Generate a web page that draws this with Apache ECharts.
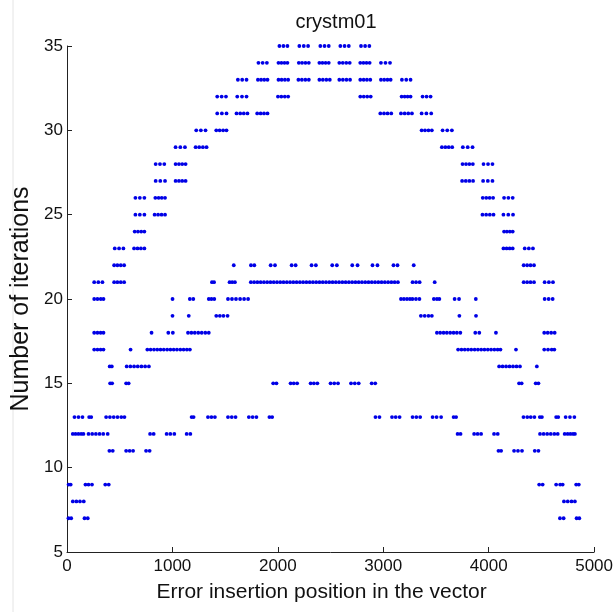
<!DOCTYPE html>
<html>
<head>
<meta charset="utf-8">
<script src="https://cdn.jsdelivr.net/npm/echarts@6/dist/echarts.min.js"></script>
<style>
html,body{margin:0;padding:0;background:#fff;}
#chart{width:616px;height:612px;}
</style>
</head>
<body>
<div id="chart"></div>
<script>
// Tick values
const xTicks = [0, 1000, 2000, 3000, 4000, 5000];
const yTicks = [5, 10, 15, 20, 25, 30, 35];

// Error insertion positions observed for each iteration count
const iter35 = [2015, 2053, 2091, 2204, 2246, 2287, 2403, 2443, 2483, 2593, 2633, 2673, 2789, 2828, 2868];
const iter34 = [1816, 1856, 1896, 2006, 2034, 2063, 2091, 2199, 2230, 2262, 2294, 2394, 2423, 2453, 2483, 2583, 2616, 2649, 2682, 2782, 2812, 2841, 2871, 2978, 3021, 3064];
const iter33 = [1621, 1662, 1703, 1811, 1841, 1871, 1902, 2006, 2036, 2067, 2098, 2195, 2228, 2261, 2294, 2394, 2427, 2460, 2493, 2583, 2617, 2651, 2685, 2782, 2814, 2845, 2877, 2978, 3009, 3040, 3070, 3177, 3218, 3259];
const iter32 = [1425, 1467, 1508, 1615, 1660, 1703, 2001, 2033, 2066, 2098, 2782, 2815, 2848, 2881, 3174, 3203, 3231, 3259, 3373, 3411, 3449];
const iter31 = [1425, 1469, 1513, 1608, 1643, 1677, 1712, 1804, 1837, 1869, 1902, 2972, 3007, 3041, 3076, 3168, 3203, 3237, 3272, 3364, 3409, 3455];
const iter30 = [1226, 1270, 1314, 1416, 1448, 1481, 1513, 3364, 3396, 3429, 3461, 3563, 3607, 3651];
const iter29 = [1030, 1075, 1119, 1220, 1254, 1289, 1324, 3556, 3589, 3621, 3654, 3755, 3801, 3847];
const iter28 = [841, 882, 923, 1030, 1062, 1093, 1125, 3752, 3785, 3817, 3850, 3951, 3994, 4036];
const iter27 = [841, 885, 930, 1030, 1062, 1093, 1125, 3748, 3783, 3817, 3852, 3947, 3992, 4036];
const iter26 = [649, 691, 734, 838, 869, 899, 930, 3944, 3977, 4009, 4042, 4146, 4187, 4228];
const iter25 = [649, 691, 734, 831, 864, 897, 930, 3941, 3976, 4011, 4046, 4140, 4186, 4231];
const iter24 = [642, 673, 704, 734, 4146, 4173, 4201, 4228];
const iter23 = [453, 494, 535, 636, 669, 701, 734, 4140, 4170, 4199, 4228, 4342, 4381, 4420];
const iter22 = [447, 478, 510, 542, 1582, 1745, 1777, 1932, 1973, 2131, 2169, 2320, 2361, 2516, 2560, 2706, 2756, 2898, 2945, 3097, 3135, 3289, 4332, 4365, 4397, 4430];
const iter21 = [258, 297, 336, 447, 478, 510, 542, 1375, 1395, 1542, 1567, 1593,
  1744, 1775, 1806, 1837, 1868, 1899, 1930, 1961, 1992, 2023, 2054, 2085, 2116, 2147, 2178, 2209,
  2240, 2271, 2302, 2333, 2364, 2395, 2426, 2457, 2488, 2519, 2550, 2581, 2612, 2643, 2674, 2705,
  2736, 2767, 2798, 2829, 2860, 2891, 2922, 2953, 2984, 3015, 3046, 3077, 3108, 3139,
  3278, 3311, 3345, 3488, 4332, 4365, 4397, 4430, 4531, 4571, 4610];
const iter20 = [258, 289, 320, 346, 1001, 1165, 1198, 1345, 1370, 1397, 1527, 1565, 1603, 1642, 1680, 1718, 3168, 3196, 3225, 3253, 3277, 3310, 3343, 3480, 3509, 3532, 3677, 3719, 3878, 4531, 4569, 4607];
const iter19 = [1001, 1155, 1416, 1450, 1484, 1523, 3357, 3393, 3429, 3461, 3722, 3880];
const iter18 = [258, 289, 319, 346, 802, 961, 1004, 1148, 1180, 1212, 1245, 1278, 1312, 1345, 3509, 3540, 3572, 3603, 3635, 3667, 3698, 3731, 3873, 3911, 4069, 4527, 4560, 4593, 4626];
const iter17 = [258, 289, 319, 346, 603, 762, 793, 825, 856, 887, 918, 950, 981, 1012, 1043, 1075, 1106, 1137, 1166, 3710, 3742, 3773, 3804, 3835, 3867, 3898, 3929, 3960, 3992, 4023, 4054, 4085, 4112, 4259, 4527, 4563, 4598, 4623];
const iter16 = [405, 425, 566, 601, 636, 671, 706, 741, 777, 4099, 4132, 4165, 4198, 4231, 4264, 4297, 4457];
const iter15 = [409, 428, 561, 585, 1956, 1987, 2121, 2151, 2183, 2311, 2342, 2375, 2500, 2535, 2571, 2694, 2730, 2767, 2890, 2924, 4288, 4313, 4446, 4472];
const iter13 = [71, 109, 147, 210, 230, 371, 407, 443, 479, 515, 545, 1182, 1201, 1337, 1370, 1403, 1527, 1563, 1599, 1725, 1761, 1797, 1920, 1946, 2926, 2964, 3083, 3118, 3155, 3278, 3314, 3350, 3468, 3506, 3549, 3667, 3691, 4330, 4366, 4399, 4434, 4485, 4505, 4640, 4660, 4730, 4771, 4813];
const iter12 = [55, 81, 108, 134, 156, 204, 239, 274, 309, 344, 386, 788, 822, 945, 980, 1018, 1135, 1170, 3705, 3733, 3862, 3895, 3928, 4051, 4086, 4487, 4521, 4555, 4589, 4623, 4655, 4721, 4749, 4775, 4800, 4818];
const iter11 = [402, 434, 561, 594, 627, 750, 784, 4093, 4118, 4241, 4278, 4316, 4437, 4472];
const iter9 = [15, 35, 175, 204, 237, 363, 396, 4479, 4512, 4640, 4678, 4702, 4830, 4855];
const iter8 = [55, 89, 123, 159, 4714, 4750, 4786, 4818];
const iter7 = [14, 40, 166, 197, 4676, 4711, 4834, 4860];

const levels = [
  [35, iter35], [34, iter34], [33, iter33], [32, iter32], [31, iter31], [30, iter30],
  [29, iter29], [28, iter28], [27, iter27], [26, iter26], [25, iter25], [24, iter24],
  [23, iter23], [22, iter22], [21, iter21], [20, iter20], [19, iter19], [18, iter18],
  [17, iter17], [16, iter16], [15, iter15], [13, iter13], [12, iter12], [11, iter11],
  [9, iter9], [8, iter8], [7, iter7]
];

const points = [];
levels.forEach(([it, xs]) => xs.forEach(x => points.push([x, it])));

const FONT = 'Liberation Sans, Arial, sans-serif';
const chart = echarts.init(document.getElementById('chart'), null, {renderer: 'canvas'});
chart.setOption({
  animation: false,
  backgroundColor: '#ffffff',
  title: {
    text: 'crystm01',
    left: 331,
    top: 7,
    textAlign: 'center',
    textStyle: {fontFamily: FONT, fontSize: 20, fontWeight: 'normal', color: '#111'}
  },
  graphic: [{
    type: 'line', silent: true,
    shape: {x1: 13, y1: 0, x2: 13, y2: 612},
    style: {stroke: '#e4e4e4', lineWidth: 1}
  }],
  grid: {left: 67, right: 21, top: 46, bottom: 60, containLabel: false},
  xAxis: {
    type: 'value', min: xTicks[0], max: xTicks[xTicks.length - 1], interval: 1000,
    name: 'Error insertion position in the vector',
    nameLocation: 'middle', nameGap: 30,
    nameTextStyle: {fontFamily: FONT, fontSize: 21, color: '#111', padding: [0, 18, 0, 0]},
    axisLine: {show: true, lineStyle: {color: '#222', width: 1}},
    axisTick: {show: true, inside: true, length: 5, lineStyle: {color: '#222'}},
    axisLabel: {fontFamily: FONT, fontSize: 17, color: '#111', margin: 6, formatter: v => String(v)},
    splitLine: {show: false}
  },
  yAxis: {
    type: 'value', min: yTicks[0], max: yTicks[yTicks.length - 1], interval: 5,
    name: 'Number of iterations',
    nameLocation: 'middle', nameGap: 24,
    nameTextStyle: {fontFamily: FONT, fontSize: 25, color: '#111'},
    axisLine: {show: true, lineStyle: {color: '#222', width: 1}},
    axisTick: {show: true, inside: true, length: 5, lineStyle: {color: '#222'}},
    axisLabel: {fontFamily: FONT, fontSize: 17, color: '#111', margin: 4, formatter: v => String(v)},
    splitLine: {show: false}
  },
  series: [{
    type: 'scatter',
    data: points,
    symbol: 'circle',
    symbolSize: 3.8,
    itemStyle: {color: '#0000e6', opacity: 1},
    emphasis: {disabled: true}
  }]
});
</script>
</body>
</html>
